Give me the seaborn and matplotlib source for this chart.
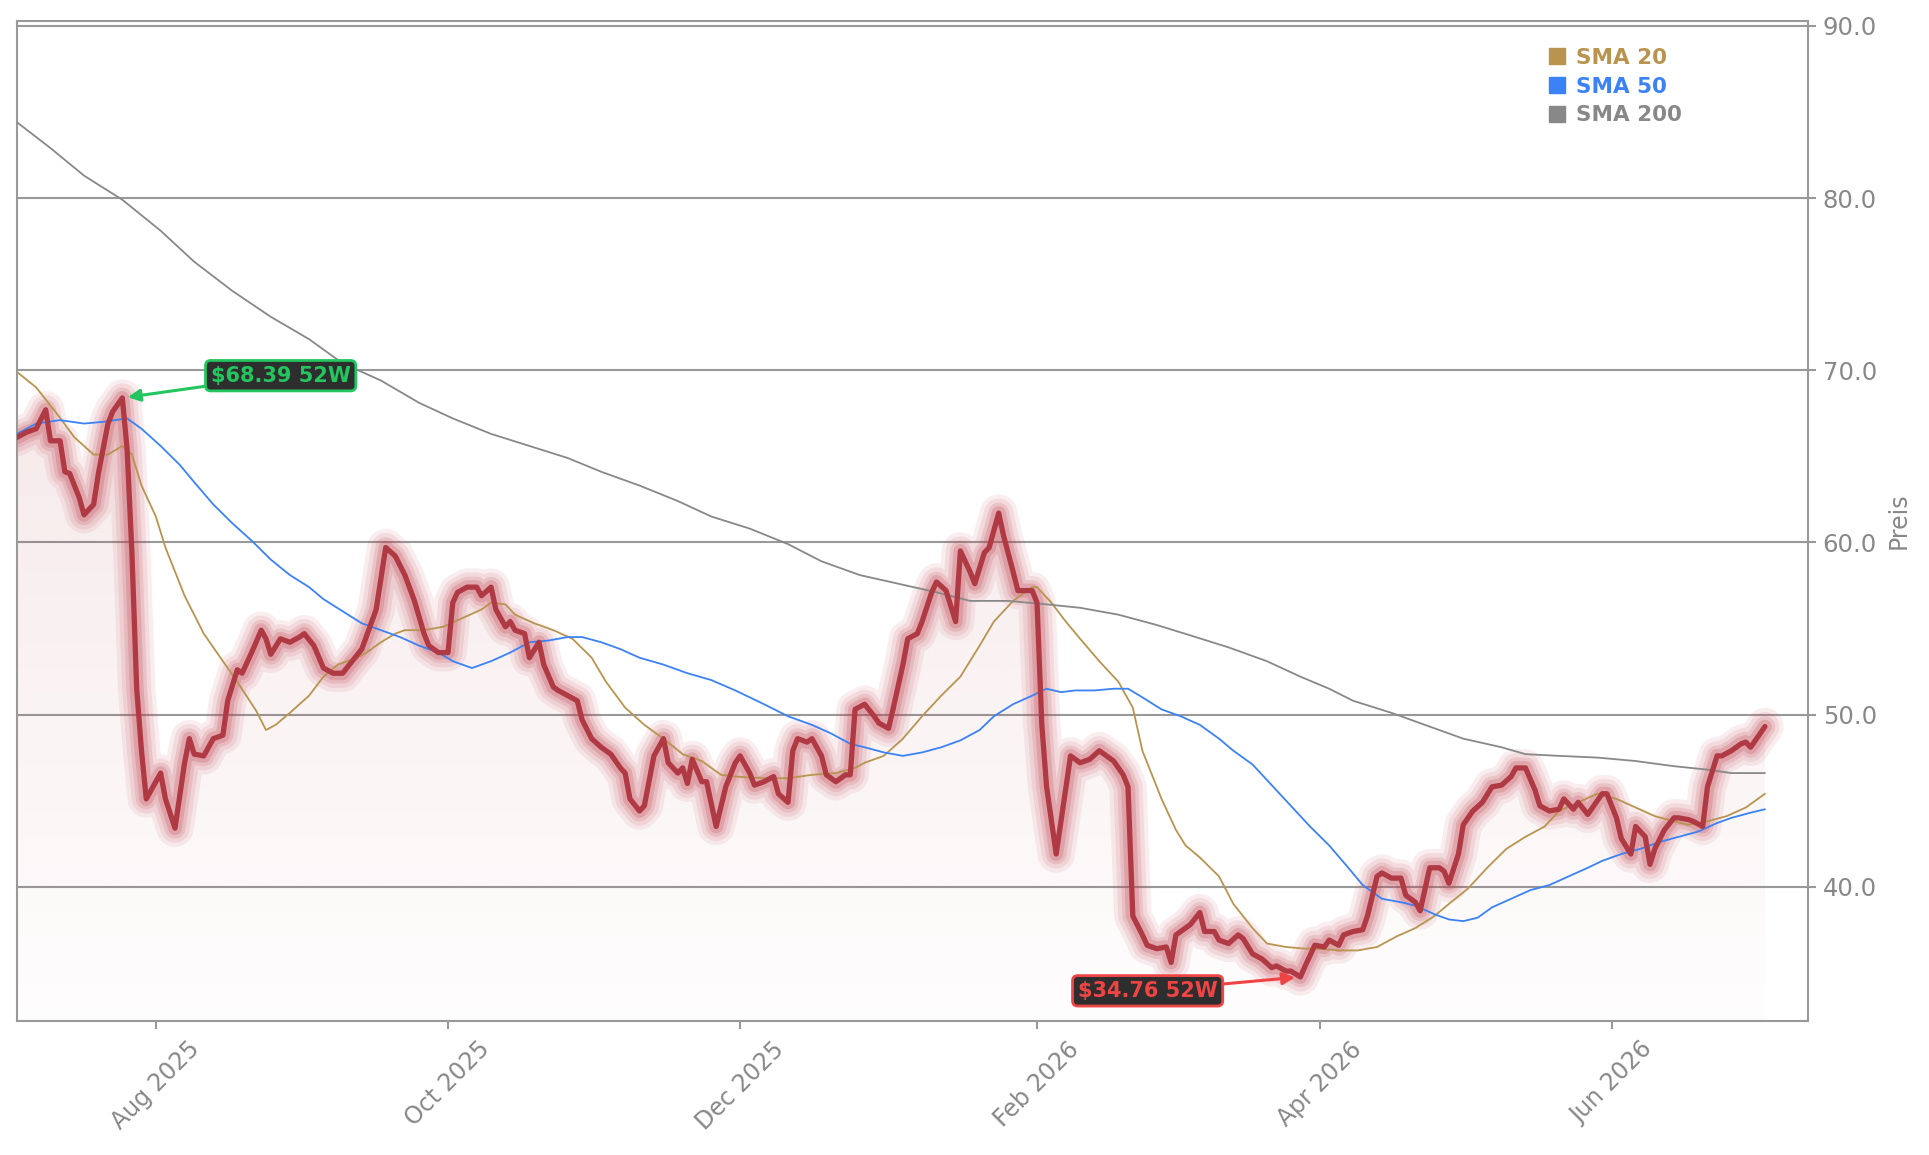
import numpy as np
import pandas as pd
import matplotlib
matplotlib.use("Agg")
import matplotlib.pyplot as plt
import matplotlib.dates as mdates
from matplotlib.lines import Line2D
import seaborn as sns

sns.set_theme(style="white")
plt.rcParams['font.family'] = ['DejaVu Sans']

# Kurs
price_dates = [
    "2025-07-03", "2025-07-05", "2025-07-07", "2025-07-09", "2025-07-10", "2025-07-12", "2025-07-13", "2025-07-14",
    "2025-07-16", "2025-07-17", "2025-07-19", "2025-07-20", "2025-07-22", "2025-07-23", "2025-07-25", "2025-07-26",
    "2025-07-27", "2025-07-28", "2025-07-29", "2025-07-30", "2025-08-01", "2025-08-02", "2025-08-03", "2025-08-05",
    "2025-08-07", "2025-08-08", "2025-08-09", "2025-08-11", "2025-08-13", "2025-08-15", "2025-08-16", "2025-08-18",
    "2025-08-19", "2025-08-21", "2025-08-23", "2025-08-24", "2025-08-25", "2025-08-27", "2025-08-29", "2025-08-31",
    "2025-09-01", "2025-09-03", "2025-09-05", "2025-09-07", "2025-09-09", "2025-09-11", "2025-09-13", "2025-09-16",
    "2025-09-17", "2025-09-18", "2025-09-20", "2025-09-22", "2025-09-24", "2025-09-26", "2025-09-27", "2025-09-29",
    "2025-10-01", "2025-10-02", "2025-10-03", "2025-10-05", "2025-10-07", "2025-10-08", "2025-10-10", "2025-10-11",
    "2025-10-13", "2025-10-14", "2025-10-15", "2025-10-17", "2025-10-18", "2025-10-20", "2025-10-21", "2025-10-23",
    "2025-10-24", "2025-10-26", "2025-10-28", "2025-10-29", "2025-10-31", "2025-11-02", "2025-11-04", "2025-11-06",
    "2025-11-07", "2025-11-08", "2025-11-10", "2025-11-11", "2025-11-13", "2025-11-15", "2025-11-16", "2025-11-18",
    "2025-11-19", "2025-11-20", "2025-11-21", "2025-11-23", "2025-11-24", "2025-11-26", "2025-11-28", "2025-11-30",
    "2025-12-01", "2025-12-03", "2025-12-04", "2025-12-06", "2025-12-08", "2025-12-09", "2025-12-11", "2025-12-12",
    "2025-12-13", "2025-12-15", "2025-12-16", "2025-12-18", "2025-12-19", "2025-12-21", "2025-12-23", "2025-12-24",
    "2025-12-25", "2025-12-27", "2025-12-29", "2025-12-30", "2026-01-01", "2026-01-02", "2026-01-04", "2026-01-05",
    "2026-01-07", "2026-01-08", "2026-01-10", "2026-01-11", "2026-01-13", "2026-01-15", "2026-01-16", "2026-01-18",
    "2026-01-19", "2026-01-21", "2026-01-22", "2026-01-24", "2026-01-25", "2026-01-27", "2026-01-28", "2026-01-31",
    "2026-02-01", "2026-02-02", "2026-02-03", "2026-02-05", "2026-02-08", "2026-02-10", "2026-02-12", "2026-02-14",
    "2026-02-15", "2026-02-17", "2026-02-19", "2026-02-20", "2026-02-21", "2026-02-23", "2026-02-24", "2026-02-26",
    "2026-02-28", "2026-03-01", "2026-03-02", "2026-03-04", "2026-03-05", "2026-03-07", "2026-03-08", "2026-03-10",
    "2026-03-11", "2026-03-13", "2026-03-15", "2026-03-16", "2026-03-18", "2026-03-20", "2026-03-22", "2026-03-23",
    "2026-03-25", "2026-03-26", "2026-03-28", "2026-03-29", "2026-03-31", "2026-04-02", "2026-04-03", "2026-04-05",
    "2026-04-06", "2026-04-08", "2026-04-10", "2026-04-11", "2026-04-13", "2026-04-14", "2026-04-16", "2026-04-18",
    "2026-04-19", "2026-04-21", "2026-04-22", "2026-04-24", "2026-04-26", "2026-04-27", "2026-04-28", "2026-04-30",
    "2026-05-01", "2026-05-03", "2026-05-05", "2026-05-07", "2026-05-09", "2026-05-11", "2026-05-12", "2026-05-14",
    "2026-05-16", "2026-05-17", "2026-05-19", "2026-05-21", "2026-05-22", "2026-05-24", "2026-05-25", "2026-05-27",
    "2026-05-28", "2026-05-30", "2026-05-31", "2026-06-02", "2026-06-03", "2026-06-05", "2026-06-06", "2026-06-08",
    "2026-06-09", "2026-06-10", "2026-06-12", "2026-06-14", "2026-06-15", "2026-06-17", "2026-06-18", "2026-06-20",
    "2026-06-21", "2026-06-23", "2026-06-24", "2026-06-26", "2026-06-28", "2026-06-29", "2026-06-30", "2026-07-02",
    "2026-07-03",
]
price_values = [
    66.1, 66.4, 66.6, 67.7, 65.9, 65.9, 64.1, 64.0,
    62.6, 61.6, 62.2, 64.0, 66.9, 67.6, 68.39, 65.4,
    59.4, 51.5, 47.9, 45.1, 46.1, 46.6, 45.1, 43.4,
    47.2, 48.6, 47.7, 47.6, 48.6, 48.8, 50.8, 52.6,
    52.4, 53.6, 54.9, 54.4, 53.5, 54.4, 54.2, 54.5,
    54.7, 54.0, 52.7, 52.4, 52.4, 53.1, 53.8, 56.1,
    57.9, 59.7, 59.2, 58.1, 56.6, 54.7, 54.0, 53.6,
    53.6, 56.5, 57.1, 57.4, 57.4, 56.9, 57.4, 56.1,
    55.1, 55.4, 54.9, 54.7, 53.3, 54.2, 52.9, 51.6,
    51.4, 51.1, 50.8, 49.7, 48.6, 48.1, 47.7, 46.9,
    46.6, 45.1, 44.4, 44.7, 47.6, 48.6, 47.2, 46.6,
    46.9, 46.0, 47.4, 46.1, 46.1, 43.5, 45.8, 47.2,
    47.6, 46.6, 45.9, 46.1, 46.4, 45.4, 44.9, 47.9,
    48.6, 48.4, 48.6, 47.6, 46.5, 46.1, 46.5, 46.5,
    50.3, 50.6, 49.9, 49.5, 49.2, 50.4, 52.9, 54.4,
    54.7, 55.4, 57.1, 57.7, 57.2, 55.4, 59.5, 58.3,
    57.6, 59.4, 59.7, 61.7, 60.4, 58.3, 57.2, 57.2,
    56.5, 49.4, 45.8, 41.9, 47.6, 47.2, 47.4, 47.9,
    47.7, 47.3, 46.5, 45.8, 38.3, 37.2, 36.6, 36.4,
    36.5, 35.6, 37.2, 37.6, 37.8, 38.5, 37.4, 37.4,
    36.9, 36.7, 37.2, 37.0, 36.1, 35.8, 35.3, 35.4,
    35.1, 35.1, 34.76, 35.4, 36.6, 36.5, 36.9, 36.6,
    37.2, 37.4, 37.5, 38.3, 40.6, 40.8, 40.5, 40.5,
    39.5, 39.1, 38.6, 41.1, 41.1, 40.9, 40.2, 41.9,
    43.6, 44.4, 44.9, 45.8, 45.9, 46.4, 46.9, 46.9,
    45.6, 44.7, 44.4, 44.5, 45.1, 44.5, 44.9, 44.2,
    44.6, 45.4, 45.4, 44.0, 42.8, 41.9, 43.5, 42.9,
    41.3, 42.2, 43.3, 44.0, 44.0, 43.9, 43.8, 43.5,
    45.8, 47.6, 47.6, 47.9, 48.3, 48.4, 48.1, 48.9,
    49.3,
]

sma20_dates = [
    "2025-07-03", "2025-07-07", "2025-07-11", "2025-07-15", "2025-07-19", "2025-07-22", "2025-07-25", "2025-07-27",
    "2025-07-29", "2025-08-01", "2025-08-03", "2025-08-07", "2025-08-11", "2025-08-15", "2025-08-18", "2025-08-22",
    "2025-08-24", "2025-08-26", "2025-08-29", "2025-09-02", "2025-09-05", "2025-09-08", "2025-09-12", "2025-09-14",
    "2025-09-17", "2025-09-20", "2025-09-22", "2025-09-26", "2025-09-30", "2025-10-04", "2025-10-08", "2025-10-10",
    "2025-10-13", "2025-10-15", "2025-10-19", "2025-10-23", "2025-10-27", "2025-10-31", "2025-11-03", "2025-11-07",
    "2025-11-11", "2025-11-15", "2025-11-19", "2025-11-23", "2025-11-27", "2025-11-30", "2025-12-06", "2025-12-11",
    "2025-12-16", "2025-12-21", "2025-12-25", "2025-12-27", "2025-12-31", "2026-01-04", "2026-01-08", "2026-01-12",
    "2026-01-16", "2026-01-20", "2026-01-23", "2026-01-27", "2026-01-31", "2026-02-01", "2026-02-04", "2026-02-07",
    "2026-02-10", "2026-02-14", "2026-02-18", "2026-02-21", "2026-02-23", "2026-02-27", "2026-03-02", "2026-03-04",
    "2026-03-07", "2026-03-11", "2026-03-14", "2026-03-18", "2026-03-21", "2026-03-25", "2026-03-29", "2026-04-01",
    "2026-04-05", "2026-04-09", "2026-04-13", "2026-04-17", "2026-04-21", "2026-04-25", "2026-04-28", "2026-05-02",
    "2026-05-06", "2026-05-10", "2026-05-14", "2026-05-18", "2026-05-21", "2026-05-25", "2026-05-29", "2026-06-02",
    "2026-06-06", "2026-06-10", "2026-06-14", "2026-06-17", "2026-06-21", "2026-06-25", "2026-06-29", "2026-07-03",
]
sma20_values = [
    69.9, 69.0, 67.6, 66.1, 65.1, 65.1, 65.6, 65.1,
    63.3, 61.5, 59.7, 56.9, 54.7, 53.1, 51.9, 50.2,
    49.1, 49.4, 50.1, 51.1, 52.2, 52.9, 53.3, 53.6,
    54.2, 54.7, 54.9, 54.9, 55.1, 55.6, 56.1, 56.5,
    56.4, 55.8, 55.3, 54.9, 54.4, 53.3, 51.9, 50.4,
    49.4, 48.6, 47.7, 47.3, 46.5, 46.4, 46.3, 46.3,
    46.5, 46.6, 46.9, 47.2, 47.6, 48.6, 49.9, 51.1,
    52.2, 54.0, 55.4, 56.6, 57.4, 57.4, 56.5, 55.4,
    54.4, 53.1, 51.9, 50.4, 47.9, 45.1, 43.3, 42.4,
    41.7, 40.6, 39.0, 37.6, 36.7, 36.5, 36.4, 36.4,
    36.3, 36.3, 36.5, 37.1, 37.6, 38.3, 39.0, 39.9,
    41.1, 42.2, 42.9, 43.5, 44.4, 44.9, 45.4, 45.1,
    44.6, 44.1, 43.8, 43.6, 43.8, 44.1, 44.6, 45.4,
]

sma50_dates = [
    "2025-07-03", "2025-07-07", "2025-07-12", "2025-07-17", "2025-07-21", "2025-07-26", "2025-07-29", "2025-08-02",
    "2025-08-06", "2025-08-09", "2025-08-13", "2025-08-17", "2025-08-21", "2025-08-25", "2025-08-29", "2025-09-02",
    "2025-09-05", "2025-09-09", "2025-09-13", "2025-09-17", "2025-09-21", "2025-09-25", "2025-09-29", "2025-10-02",
    "2025-10-06", "2025-10-10", "2025-10-14", "2025-10-18", "2025-10-22", "2025-10-26", "2025-10-29", "2025-11-02",
    "2025-11-06", "2025-11-10", "2025-11-15", "2025-11-20", "2025-11-25", "2025-11-30", "2025-12-06", "2025-12-11",
    "2025-12-16", "2025-12-20", "2025-12-24", "2025-12-27", "2025-12-31", "2026-01-04", "2026-01-08", "2026-01-12",
    "2026-01-16", "2026-01-20", "2026-01-23", "2026-01-27", "2026-01-31", "2026-02-03", "2026-02-06", "2026-02-09",
    "2026-02-13", "2026-02-17", "2026-02-20", "2026-02-23", "2026-02-27", "2026-03-03", "2026-03-07", "2026-03-11",
    "2026-03-14", "2026-03-18", "2026-03-22", "2026-03-26", "2026-03-30", "2026-04-03", "2026-04-07", "2026-04-10",
    "2026-04-14", "2026-04-18", "2026-04-21", "2026-04-25", "2026-04-28", "2026-05-01", "2026-05-04", "2026-05-07",
    "2026-05-11", "2026-05-15", "2026-05-19", "2026-05-23", "2026-05-27", "2026-05-30", "2026-06-03", "2026-06-07",
    "2026-06-11", "2026-06-15", "2026-06-19", "2026-06-23", "2026-06-26", "2026-06-30", "2026-07-03",
]
sma50_values = [
    66.3, 66.9, 67.1, 66.9, 67.0, 67.2, 66.6, 65.6,
    64.5, 63.5, 62.2, 61.1, 60.1, 59.0, 58.1, 57.4,
    56.7, 56.0, 55.3, 54.9, 54.5, 54.0, 53.6, 53.1,
    52.7, 53.1, 53.6, 54.2, 54.3, 54.5, 54.5, 54.2,
    53.8, 53.3, 52.9, 52.4, 52.0, 51.4, 50.6, 49.9,
    49.4, 48.9, 48.3, 48.1, 47.8, 47.6, 47.8, 48.1,
    48.5, 49.1, 49.9, 50.6, 51.1, 51.5, 51.3, 51.4,
    51.4, 51.5, 51.5, 51.0, 50.3, 49.9, 49.4, 48.6,
    47.9, 47.1, 45.9, 44.7, 43.5, 42.4, 41.1, 40.1,
    39.3, 39.1, 38.9, 38.4, 38.1, 38.0, 38.2, 38.8,
    39.3, 39.8, 40.1, 40.6, 41.1, 41.5, 41.9, 42.2,
    42.6, 42.9, 43.2, 43.7, 44.0, 44.3, 44.5,
]

sma200_dates = [
    "2025-07-03", "2025-07-10", "2025-07-17", "2025-07-25", "2025-08-02", "2025-08-09", "2025-08-17", "2025-08-25",
    "2025-09-02", "2025-09-09", "2025-09-17", "2025-09-25", "2025-10-02", "2025-10-10", "2025-10-18", "2025-10-26",
    "2025-11-02", "2025-11-10", "2025-11-18", "2025-11-25", "2025-12-03", "2025-12-11", "2025-12-18", "2025-12-26",
    "2026-01-03", "2026-01-11", "2026-01-18", "2026-01-26", "2026-02-03", "2026-02-10", "2026-02-18", "2026-02-26",
    "2026-03-05", "2026-03-13", "2026-03-21", "2026-03-28", "2026-04-03", "2026-04-08", "2026-04-16", "2026-04-23",
    "2026-05-01", "2026-05-09", "2026-05-14", "2026-05-21", "2026-05-29", "2026-06-06", "2026-06-14", "2026-06-21",
    "2026-06-26", "2026-07-03",
]
sma200_values = [
    84.4, 82.9, 81.3, 79.9, 78.1, 76.3, 74.6, 73.1,
    71.8, 70.4, 69.4, 68.1, 67.2, 66.3, 65.6, 64.9,
    64.1, 63.3, 62.4, 61.5, 60.8, 59.9, 58.9, 58.1,
    57.6, 57.1, 56.6, 56.6, 56.4, 56.2, 55.8, 55.2,
    54.6, 53.9, 53.1, 52.2, 51.5, 50.8, 50.1, 49.4,
    48.6, 48.1, 47.7, 47.6, 47.5, 47.3, 47.0, 46.8,
    46.6, 46.6,
]

sma_labels = ["SMA 20", "SMA 50", "SMA 200"]
sma_colors = ["#b8944f", "#3b82f6", "#888888"]
price_color = "#b03a44"
grey = "#999999"
text_grey = "#888888"

price = pd.DataFrame({"Datum": pd.to_datetime(price_dates), "Preis": price_values})
smas = [
    pd.DataFrame({"Datum": pd.to_datetime(sma20_dates), "Preis": sma20_values}),
    pd.DataFrame({"Datum": pd.to_datetime(sma50_dates), "Preis": sma50_values}),
    pd.DataFrame({"Datum": pd.to_datetime(sma200_dates), "Preis": sma200_values}),
]

y_lo, y_hi = 32.2, 90.28
x_lo, x_hi = pd.Timestamp("2025-07-03"), pd.Timestamp("2026-07-12")

fig = plt.figure(figsize=(19.29, 11.55), dpi=100)
ax = fig.add_axes([0.0088, 0.116, 0.9285, 0.8658])
ax.set_facecolor("white")

# gradient area under the price line
xn = mdates.date2num(price["Datum"])
grad = np.zeros((256, 1, 4))
grad[..., :3] = matplotlib.colors.to_rgb(price_color)
grad[..., 3] = np.linspace(0.11, 0.01, 256)[:, None]
im = ax.imshow(grad, aspect="auto", origin="upper", zorder=1,
               extent=[xn[0], xn[-1], y_lo, max(price_values)])
area = ax.fill_between(price["Datum"], price["Preis"], y_lo, facecolor="none", edgecolor="none")
im.set_clip_path(area.get_paths()[0], transform=ax.transData)

# glow around the price line, in stepped bands
for w, a in [(27, 0.09), (21, 0.11), (15, 0.15), (10, 0.22)]:
    ax.plot(price["Datum"], price["Preis"], color="#c0404e", lw=w, alpha=a,
            solid_joinstyle="round", solid_capstyle="round", zorder=2)

for df, c in zip(smas, sma_colors):
    sns.lineplot(data=df, x="Datum", y="Preis", color=c, lw=1.3, ax=ax, zorder=3)

sns.lineplot(data=price, x="Datum", y="Preis", color=price_color, lw=3.8, ax=ax, zorder=4)

ax.set_xlim(x_lo, x_hi)
ax.set_ylim(y_lo, y_hi)

# axes styling
ax.yaxis.grid(True, color=grey, lw=1.5)
ax.xaxis.grid(False)
ax.set_axisbelow(True)
for s in ax.spines.values():
    s.set_color(grey)
    s.set_linewidth(1.5)
ax.yaxis.tick_right()
ax.yaxis.set_label_position("right")
ax.set_yticks([40, 50, 60, 70, 80, 90])
ax.yaxis.set_major_formatter(matplotlib.ticker.StrMethodFormatter("{x:.1f}"))
ax.xaxis.set_major_locator(mdates.MonthLocator(bymonth=[2, 4, 6, 8, 10, 12]))
ax.xaxis.set_major_formatter(mdates.DateFormatter("%b %Y"))
ax.tick_params(axis="both", colors=grey, labelcolor=text_grey, length=5.5, width=1.5)
ax.tick_params(axis="x", bottom=True, top=False, labelsize=17, pad=6)
ax.tick_params(axis="y", right=True, left=False, labelsize=17.5, pad=5)
plt.setp(ax.get_xticklabels(), rotation=45)
ax.set_xlabel("")
ax.set_ylabel("Preis", color=text_grey, fontsize=17, labelpad=7)

# legend
handles = [Line2D([], [], marker="s", linestyle="none", markersize=11,
                  markerfacecolor=c, markeredgecolor=c) for c in sma_colors]
ax.legend(handles, sma_labels, loc="upper left", bbox_to_anchor=(0.855, 0.973), frameon=False,
          prop={"weight": "bold", "size": 15.5}, labelcolor=sma_colors, handlelength=0.8,
          handletextpad=0.5, labelspacing=0.4, borderpad=0, borderaxespad=0)

# 52-week high / low
i_hi = int(np.argmax(price_values))
i_lo = int(np.argmin(price_values))
for i, off, col in [(i_hi, (114, 16), "#22c55e"), (i_lo, (-110, -10), "#ef4444")]:
    ax.annotate(f"${price_values[i]:.2f} 52W", xy=(price["Datum"][i], price_values[i]),
                xytext=off, textcoords="offset points", ha="center", va="center",
                color=col, fontsize=15, fontweight="bold", zorder=10,
                bbox=dict(boxstyle="round,pad=0.25", fc="#2e2e2e", ec=col, lw=2),
                arrowprops=dict(arrowstyle="-|>", color=col, lw=2.2, shrinkA=0, shrinkB=4,
                                mutation_scale=18))

fig.savefig("out.png", dpi=100)
